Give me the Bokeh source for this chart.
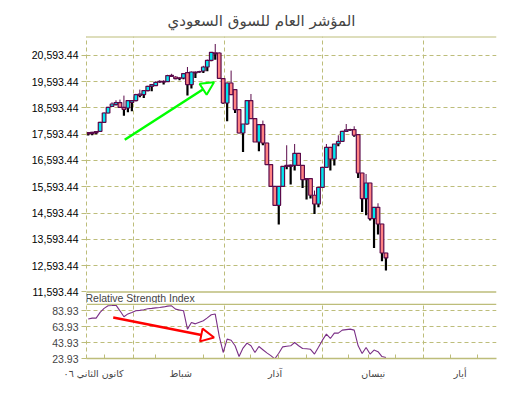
from bokeh.plotting import figure
from bokeh.layouts import column
from bokeh.models import (ColumnDataSource, FixedTicker, NumeralTickFormatter, Range1d,
                          Span, Arrow, NormalHead, Title, Label, BoxAnnotation)
from bokeh.embed import file_html
from bokeh.resources import INLINE

title_text = "المؤشر العام للسوق السعودي"
rsi_title = "Relative Strength Index"

# trading-day index of each candle
day = list(range(76))
open_ = [17654, 17617, 17647, 17704, 18046, 18400, 18654, 18719, 18795, 18616,
         18590, 18800, 18871, 19073, 19099, 19251, 19415, 19441, 19586, 19605,
         19593, 19795, 19768, 19738, 19730, 19936, 19479, 19958, 19958, 19996,
         20148, 20403, 20689, 20681, 19708, 18780, 19540, 19289, 18529, 17639,
         17981, 18871, 18187, 17297, 17959, 17259, 16438, 15613, 14890, 15613,
         16411, 16373, 16411, 16867, 16411, 15905, 15905, 15271, 14940, 15575,
         16335, 17095, 16651, 17230, 17324, 17704, 17754, 17769, 17579, 16118,
         15145, 15738, 14385, 14814, 14179, 13077]
high = [17673, 17685, 17711, 18065, 18426, 18635, 18806, 18883, 18909, 19061,
        18863, 18890, 19130, 19289, 19263, 19434, 19491, 19605, 19643, 19643,
        19852, 19890, 19795, 19757, 19909, 20148, 19977, 19977, 20004, 20194,
        20430, 20719, 21023, 20707, 19719, 19560, 20012, 19300, 18540, 17981,
        18871, 19122, 18200, 17959, 18111, 17270, 16450, 15625, 15613, 16373,
        17172, 16438, 17221, 16880, 16420, 15920, 15920, 15449, 15575, 16335,
        17221, 17110, 17221, 17552, 17720, 17981, 17800, 17894, 17600, 16130,
        16080, 15750, 14830, 14966, 14190, 13090]
low = [17540, 17552, 17590, 17685, 18027, 18388, 18628, 18692, 18597, 18293,
       18426, 18464, 18845, 18997, 18970, 19225, 19225, 19434, 19548, 19479,
       19574, 19776, 19681, 19643, 19681, 19061, 19327, 19730, 19928, 19920,
       19985, 20365, 20422, 19708, 18750, 18084, 19092, 18400, 17628, 16917,
       17960, 18187, 17297, 16944, 17172, 16438, 15613, 14890, 14157, 15600,
       16259, 15677, 16210, 16400, 15548, 15107, 15145, 14560, 14814, 15560,
       16320, 16210, 16400, 17134, 17300, 17680, 17720, 17500, 15928, 14636,
       14510, 14309, 13267, 13776, 12761, 12408]
close = [17609, 17666, 17692, 18046, 18400, 18616, 18742, 18795, 18616, 18540,
         18871, 18871, 19099, 19122, 19251, 19415, 19479, 19567, 19605, 19574,
         19822, 19833, 19708, 19719, 19898, 19479, 19958, 19920, 19977, 20148,
         20403, 20707, 20650, 19719, 18780, 19540, 19099, 18529, 17639, 17981,
         18871, 18187, 17297, 17959, 17259, 16438, 15613, 14890, 15613, 16373,
         16373, 16420, 16867, 16411, 15867, 15867, 15271, 14940, 15575, 16335,
         17095, 16651, 17221, 17320, 17704, 17754, 17769, 17554, 16118, 15145,
         15738, 14385, 14814, 14179, 13077, 12887]
rsi = [73.5, 74.7, 74.7, 82.0, 87.0, 90.2, 90.5, 91.1, 83.9, 76.4,
       80.0, 81.8, 84.0, 84.5, 85.3, 86.5, 87.0, 87.6, 88.1, 88.8,
       89.8, 90.2, 86.0, 85.0, 84.0, 60.9, 69.2, 67.5, 69.5, 71.4,
       75.0, 79.0, 79.8, 52.0, 31.5, 48.3, 46.9, 40.0, 26.4, 37.0,
       43.3, 39.9, 31.5, 39.0, 35.0, 31.0, 27.5, 23.5, 30.5, 38.6,
       39.3, 39.9, 44.1, 40.0, 36.5, 36.2, 35.5, 29.5, 38.0, 47.0,
       54.6, 49.1, 55.9, 55.9, 59.6, 60.3, 60.9, 59.6, 39.9, 30.2,
       37.8, 29.5, 34.5, 32.5, 26.4, 25.2]

price_ticks = [11593.44, 12593.44, 13593.44, 14593.44, 15593.44, 16593.44,
               17593.44, 18593.44, 19593.44, 20593.44]
rsi_ticks = [23.93, 43.93, 63.93, 83.93]
month_labels = ["كانون الثاني ٠٦", "شباط", "آذار", "نيسان", "أيار"]
month_label_pos = [1.36, 23.3, 47.05, 71.8, 93.7]
month_starts = [11.49, 34.4, 59.0, 84.4]
week_ticks = [4.0, 17.0, 29.0, 41.0, 48.0, 55.0, 65.6, 70.7, 77.4, 91.2, 98.1]

X0, X1 = -0.43, 102.85
P_BAND, P0, P1 = 11156, 11593.44, 21308
R0, R1 = 23.93, 93.1
RSI_TOP = 92.3
GRID = "#bdbd7a"
OUT = "#5a0a4a"
UP = "#00e8f0"
DOWN = "#ff8282"
FONT = "Liberation Sans"
AFONT = "DejaVu Sans"

up_flag = [c >= o for o, c in zip(open_, close)]
src = ColumnDataSource(dict(
    x=day, o=open_, h=high, l=low, c=close,
    top=[max(o, c) for o, c in zip(open_, close)],
    bot=[min(o, c) for o, c in zip(open_, close)],
    col=[UP if u else DOWN for u in up_flag],
))

p = figure(width=498, height=303, output_backend="svg", toolbar_location=None,
           x_range=Range1d(X0, X1), y_range=Range1d(P_BAND, P1),
           min_border_left=86, min_border_right=2, min_border_top=36, min_border_bottom=0)
p.outline_line_color = None
p.title = Title(text=title_text, align="left", offset=81, text_font=AFONT,
                text_font_size="15px", text_font_style="normal", standoff=14)
p.xaxis.visible = False
p.yaxis.ticker = FixedTicker(ticks=price_ticks)
p.yaxis.formatter = NumeralTickFormatter(format="0,0.00")
p.yaxis.major_label_text_font = FONT
p.yaxis.major_label_text_font_size = "10.5px"
p.yaxis.major_label_text_color = "black"
p.yaxis.axis_line_color = GRID
p.yaxis.axis_line_dash = "4 3"
p.yaxis.major_tick_line_color = GRID
p.yaxis.major_tick_in = 0
p.yaxis.major_tick_out = 5
p.yaxis.minor_tick_line_color = None
p.yaxis.major_label_standoff = 3
p.ygrid.ticker = FixedTicker(ticks=price_ticks[1:])
p.ygrid.grid_line_color = GRID
p.ygrid.grid_line_dash = "4 3"
p.xgrid.ticker = FixedTicker(ticks=month_starts + [X1])
p.xgrid.grid_line_color = GRID
p.xgrid.grid_line_dash = "4 3"

# white band holding the indicator caption
p.add_layout(BoxAnnotation(bottom=P_BAND, top=P0, fill_color="white", fill_alpha=1.0,
                           line_color=None))
p.add_layout(Span(location=P1, dimension="width", line_color=GRID, line_width=2))
p.add_layout(Span(location=P0, dimension="width", line_color=GRID, line_width=1.5))
p.add_layout(Label(x=X0, y=(P_BAND + P0) / 2, text=rsi_title, text_font=FONT,
                   text_font_size="10.5px", text_baseline="middle", x_offset=-1))

p.segment(x0="x", y0="top", x1="x", y1="h", source=src, line_color=OUT, line_width=1)
p.segment(x0="x", y0="bot", x1="x", y1="l", source=src, line_color="black", line_width=2.2)
p.vbar(x="x", width=0.92, top="top", bottom="bot", source=src,
       fill_color="col", line_color=OUT, line_width=1.2)

p.add_layout(Arrow(end=NormalHead(size=13, fill_color=None, line_color="#00ff00", line_width=2),
                   x_start=9.2, y_start=17380, x_end=31.7, y_end=19567,
                   line_color="#00ff00", line_width=2.5))

# RSI panel
r = figure(width=498, height=95, output_backend="svg", toolbar_location=None,
           x_range=p.x_range, y_range=Range1d(R0, R1),
           min_border_left=86, min_border_right=2, min_border_top=0, min_border_bottom=40)
r.outline_line_color = None
r.line(day, rsi, line_color="#7a2f86", line_width=1.1)
r.yaxis.ticker = FixedTicker(ticks=rsi_ticks)
r.yaxis.formatter = NumeralTickFormatter(format="0.00")
r.yaxis.major_label_text_font = FONT
r.yaxis.major_label_text_font_size = "10.5px"
r.yaxis.axis_line_color = GRID
r.yaxis.axis_line_dash = "4 3"
r.yaxis.major_tick_line_color = GRID
r.yaxis.major_tick_in = 0
r.yaxis.major_tick_out = 5
r.yaxis.minor_tick_line_color = None
r.yaxis.major_label_standoff = 3
r.xaxis.ticker = FixedTicker(ticks=month_label_pos, minor_ticks=week_ticks)
r.xaxis.major_label_overrides = {v: t for v, t in zip(month_label_pos, month_labels)}
r.xaxis.major_label_text_font = AFONT
r.xaxis.major_label_text_font_size = "9.5px"
r.xaxis.major_tick_line_color = None
r.xaxis.minor_tick_line_color = GRID
r.xaxis.minor_tick_in = 4
r.xaxis.minor_tick_out = 0
r.xaxis.axis_line_color = GRID
r.xaxis.axis_line_width = 1.5
r.xaxis.major_label_standoff = 3
r.ygrid.ticker = FixedTicker(ticks=rsi_ticks[1:])
r.ygrid.grid_line_color = GRID
r.ygrid.grid_line_dash = "4 3"
r.xgrid.ticker = FixedTicker(ticks=month_starts + [X1])
r.xgrid.grid_line_color = GRID
r.xgrid.grid_line_dash = "4 3"
r.add_layout(Span(location=RSI_TOP, dimension="width", line_color=GRID, line_width=1.5))
r.add_layout(Arrow(end=NormalHead(size=13, fill_color=None, line_color="#ff0000", line_width=2),
                   x_start=6.3, y_start=75.5, x_end=31.7, y_end=50.3,
                   line_color="#ff0000", line_width=2.5))

layout = column(p, r, spacing=0)
open("out.html", "w").write(file_html(layout, INLINE))
